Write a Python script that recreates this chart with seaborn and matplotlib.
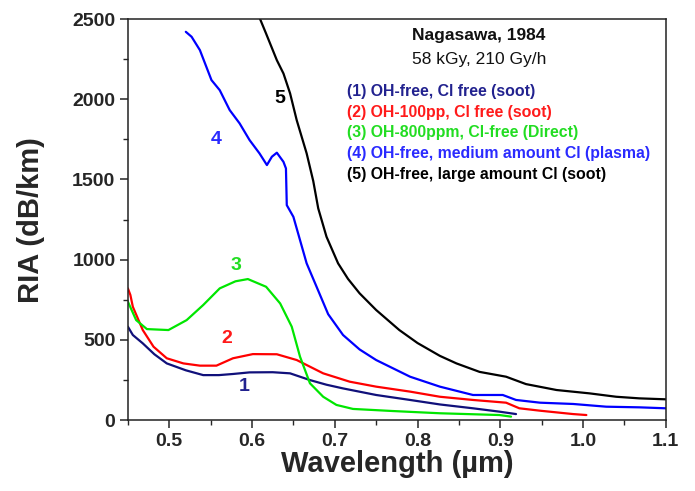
import matplotlib
matplotlib.use("Agg")
import matplotlib.pyplot as plt
import seaborn as sns
import pandas as pd
from matplotlib.ticker import MultipleLocator

# ---- data ----
c1_x = [0.45, 0.456, 0.468, 0.482, 0.497, 0.52, 0.541, 0.56, 0.577, 0.597, 0.625, 0.646,
        0.670, 0.690, 0.710, 0.750, 0.791, 0.827, 0.867, 0.899, 0.919]
c1_y = [582, 530, 478, 410, 353, 310, 280, 280, 287, 297, 298, 291,
        249, 220, 197, 156, 125, 97, 73, 52, 37]

c2_x = [0.45, 0.453, 0.456, 0.468, 0.481, 0.497, 0.517, 0.537, 0.557, 0.577, 0.601, 0.630,
        0.654, 0.686, 0.718, 0.750, 0.791, 0.827, 0.867, 0.907, 0.923, 0.948, 0.988, 1.004]
c2_y = [821, 780, 706, 561, 457, 385, 353, 339, 339, 385, 411, 410,
        374, 291, 239, 208, 177, 145, 125, 108, 73, 58, 37, 31]

c3_x = [0.45, 0.460, 0.473, 0.499, 0.521, 0.541, 0.561, 0.580, 0.595, 0.617, 0.634, 0.648,
        0.658, 0.670, 0.686, 0.702, 0.722, 0.770, 0.827, 0.899, 0.913]
c3_y = [738, 623, 567, 561, 623, 717, 821, 865, 879, 831, 727, 582,
        395, 229, 145, 94, 69, 56, 42, 31, 21]

c4_x = [0.520, 0.527, 0.537, 0.551, 0.561, 0.573, 0.585, 0.597, 0.609, 0.618, 0.624, 0.630,
        0.638, 0.641, 0.642, 0.650, 0.658, 0.666, 0.678, 0.692, 0.710, 0.730, 0.750, 0.791,
        0.827, 0.867, 0.903, 0.919, 0.948, 0.988, 1.028, 1.068, 1.10]
c4_y = [2421, 2390, 2307, 2120, 2057, 1933, 1850, 1746, 1663, 1590, 1642, 1667,
        1610, 1569, 1340, 1267, 1122, 977, 831, 660, 530, 440, 374, 270,
        208, 156, 156, 125, 108, 100, 83, 79, 73]

c5_x = [0.605, 0.617, 0.630, 0.638, 0.646, 0.654, 0.666, 0.674, 0.680, 0.690, 0.704, 0.716,
        0.730, 0.750, 0.778, 0.800, 0.827, 0.847, 0.875, 0.907, 0.931, 0.968, 1.008, 1.040,
        1.068, 1.10]
c5_y = [2560, 2410, 2244, 2161, 2037, 1870, 1663, 1490, 1320, 1143, 977, 880,
        790, 686, 561, 480, 400, 353, 300, 270, 224, 187, 166, 145,
        135, 129]

series_x = [c1_x, c2_x, c3_x, c4_x, c5_x]
series_y = [c1_y, c2_y, c3_y, c4_y, c5_y]
series_ids = ["1", "2", "3", "4", "5"]
line_colors = ["#10107a", "#ff0000", "#00e600", "#0000ff", "#000000"]
text_colors = ["#22228f", "#ff1a1a", "#22dd22", "#2a2aff", "#000000"]

legend_labels = ["(1) OH-free, Cl free (soot)",
                 "(2) OH-100pp, Cl free (soot)",
                 "(3) OH-800ppm, Cl-free (Direct)",
                 "(4) OH-free, medium amount Cl (plasma)",
                 "(5) OH-free, large amount Cl (soot)"]
# positions of curve number labels (data coords)
num_x = [0.591, 0.570, 0.580, 0.557, 0.634]
num_y = [206, 511, 966, 1752, 2007]

x_ticks = [0.5, 0.6, 0.7, 0.8, 0.9, 1.0, 1.1]
x_ticklabels = ["0.5", "0.6", "0.7", "0.8", "0.9", "1.0", "1.1"]
y_ticks = [0, 500, 1000, 1500, 2000, 2500]

rows = []
for sid, xs, ys in zip(series_ids, series_x, series_y):
    for xv, yv in zip(xs, ys):
        rows.append({"series": sid, "x": xv, "y": yv})
df = pd.DataFrame(rows)

sns.set_style("ticks")
plt.rcParams["font.family"] = ["Liberation Sans", "DejaVu Sans"]

fig = plt.figure(figsize=(6.95, 4.91), dpi=100)
ax = fig.add_axes([0.184, 0.1446, 0.958 - 0.184, 0.961 - 0.1446])

sns.lineplot(data=df, x="x", y="y", hue="series", palette=dict(zip(series_ids, line_colors)),
             sort=False, estimator=None, linewidth=1.6, legend=False, ax=ax)

ax.set_xlim(0.45, 1.1)
ax.set_ylim(0, 2500)
ax.set_xticks(x_ticks)
ax.set_xticklabels(x_ticklabels)
ax.set_yticks(y_ticks)
ax.xaxis.set_minor_locator(MultipleLocator(0.05))
ax.yaxis.set_minor_locator(MultipleLocator(250))
ax.tick_params(axis="both", which="major", direction="out", length=6, width=1.1,
               labelsize=14, pad=3)
ax.tick_params(axis="both", which="minor", direction="out", length=3.5, width=1.0)
for lab in ax.get_xticklabels() + ax.get_yticklabels():
    lab.set_fontweight("bold")
for sp in ax.spines.values():
    sp.set_visible(True)
    sp.set_linewidth(1.1)
    sp.set_color("#222222")

ax.set_xlabel("Wavelength (µm)", fontsize=21, fontweight="bold")
ax.set_ylabel("RIA (dB/km)", fontsize=21, fontweight="bold")
ax.xaxis.set_label_coords(0.5, -0.075)
ax.yaxis.set_label_coords(-0.155, 0.5)

for t, xv, yv, c in zip(series_ids, num_x, num_y, text_colors):
    ax.text(xv, yv, t, color=c, fontsize=14, fontweight="bold", ha="center", va="center")

ax.text(0.528, 0.96, "Nagasawa, 1984", transform=ax.transAxes, fontsize=12.5,
        fontweight="bold", ha="left", va="center", color="#111111")
ax.text(0.528, 0.90, "58 kGy, 210 Gy/h", transform=ax.transAxes, fontsize=12.5,
        ha="left", va="center", color="#111111")
leg_y0 = 0.820
for i, (lbl, c) in enumerate(zip(legend_labels, text_colors)):
    ax.text(0.407, leg_y0 - i * 0.0518, lbl, transform=ax.transAxes, fontsize=11.4,
            fontweight="bold", color=c, ha="left", va="center")

fig.savefig("out.png", dpi=100)
